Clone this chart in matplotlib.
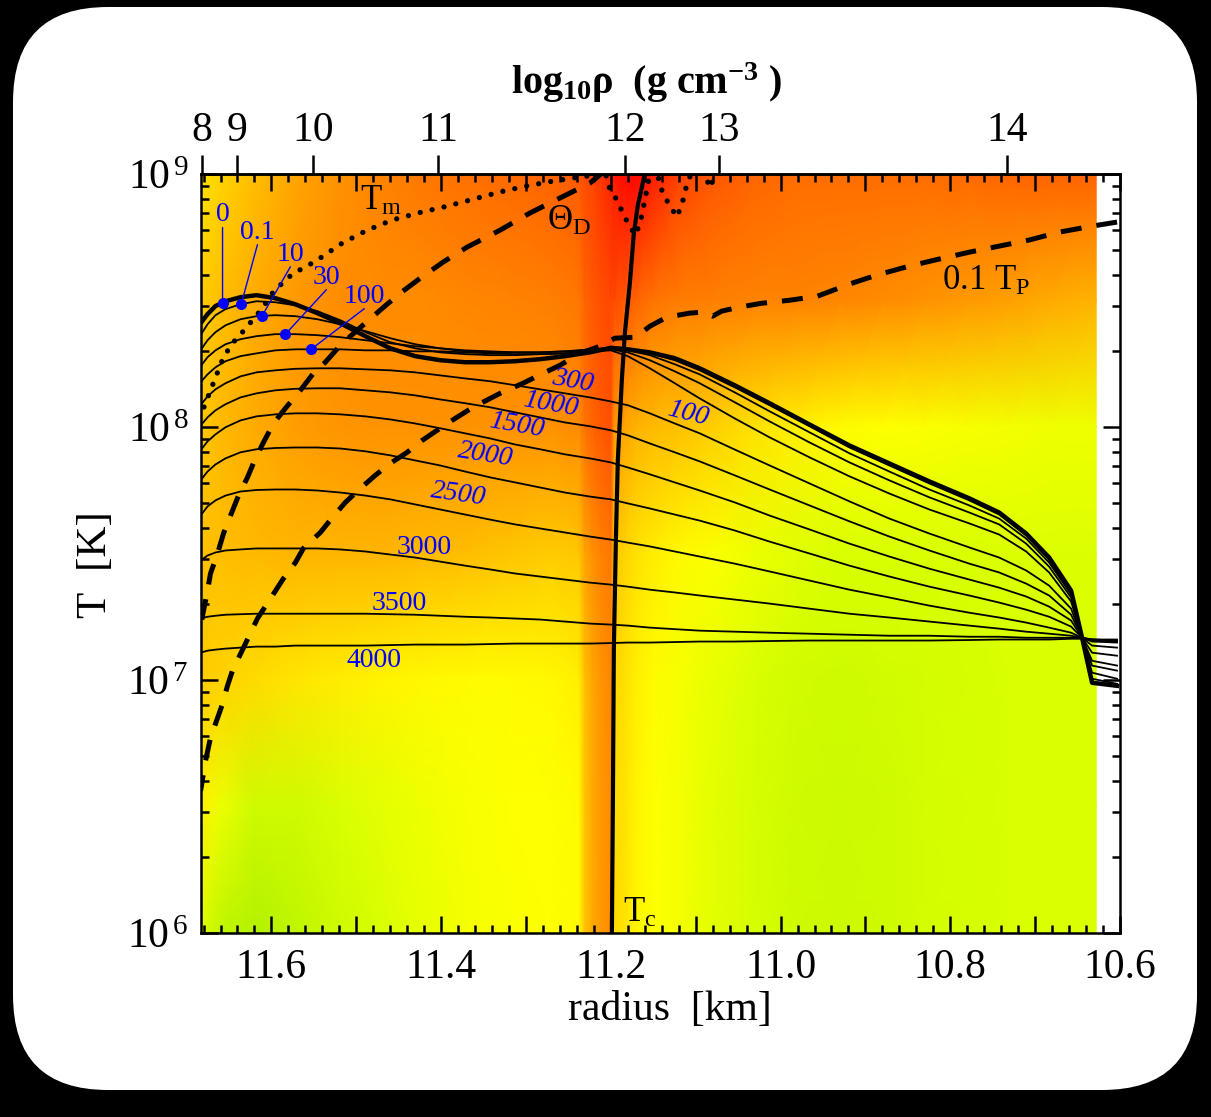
import numpy as np
import matplotlib
matplotlib.use("Agg")
import matplotlib.pyplot as plt
from matplotlib.colors import LinearSegmentedColormap
from matplotlib.patches import FancyBboxPatch
from matplotlib.ticker import (MultipleLocator, LogLocator, NullFormatter,
                               FuncFormatter, FixedLocator)

plt.rcParams['font.family'] = ['Liberation Serif', 'DejaVu Serif']
plt.rcParams['mathtext.fontset'] = 'custom'
plt.rcParams['mathtext.rm'] = 'Liberation Serif'
plt.rcParams['mathtext.it'] = 'Liberation Serif:italic'
plt.rcParams['mathtext.bf'] = 'Liberation Serif:bold'

# ---------------- cooling profiles: log10 T versus radius ----------------
radius = [11.6835, 11.6753, 11.6659, 11.6541, 11.6365, 11.6176, 11.5953, 11.5718,
          11.5459, 11.5188, 11.4894, 11.4600, 11.4306, 11.4012, 11.3718, 11.3424,
          11.3129, 11.2835, 11.2541, 11.2247, 11.2000, 11.1800, 11.1541, 11.1247,
          11.0953, 11.0541, 11.0129, 10.9659, 10.9188, 10.8718, 10.8247, 10.7776,
          10.7424, 10.7106, 10.6835, 10.6576, 10.6447, 10.6329, 10.6035]

logT_age_0 = [8.410, 8.446, 8.478, 8.497, 8.513, 8.521, 8.509, 8.485, 8.450, 8.410,
              8.359, 8.311, 8.280, 8.264, 8.256, 8.256, 8.260, 8.268, 8.280, 8.295,
              8.313, 8.307, 8.295, 8.272, 8.232, 8.165, 8.094, 8.010, 7.927, 7.856,
              7.785, 7.718, 7.662, 7.579, 7.484, 7.353, 7.167, 6.989, 6.977]
logT_age_0p1 = [8.363, 8.406, 8.442, 8.466, 8.485, 8.497, 8.493, 8.481, 8.458, 8.422,
                8.375, 8.335, 8.311, 8.295, 8.288, 8.284, 8.284, 8.288, 8.291, 8.303,
                8.313, 8.305, 8.291, 8.264, 8.224, 8.157, 8.086, 8.003, 7.919, 7.848,
                7.777, 7.710, 7.654, 7.571, 7.476, 7.345, 7.167, 6.993, 6.981]
logT_age_10 = [8.303, 8.343, 8.375, 8.402, 8.426, 8.438, 8.442, 8.438, 8.426, 8.406,
               8.379, 8.351, 8.327, 8.311, 8.299, 8.295, 8.295, 8.295, 8.299, 8.307,
               8.313, 8.303, 8.284, 8.248, 8.208, 8.137, 8.062, 7.979, 7.896, 7.824,
               7.753, 7.690, 7.638, 7.559, 7.464, 7.338, 7.167, 7.005, 6.985]
logT_age_30 = [8.240, 8.276, 8.303, 8.327, 8.347, 8.359, 8.367, 8.367, 8.363, 8.355,
               8.343, 8.331, 8.319, 8.311, 8.303, 8.299, 8.295, 8.295, 8.299, 8.303,
               8.307, 8.295, 8.264, 8.220, 8.173, 8.098, 8.022, 7.939, 7.860, 7.789,
               7.722, 7.662, 7.615, 7.539, 7.448, 7.326, 7.167, 7.029, 7.005]
logT_age_100 = [8.177, 8.208, 8.236, 8.260, 8.280, 8.291, 8.303, 8.307, 8.307, 8.307,
                8.303, 8.303, 8.299, 8.299, 8.295, 8.291, 8.288, 8.288, 8.291, 8.299,
                8.303, 8.280, 8.232, 8.173, 8.113, 8.034, 7.959, 7.880, 7.805, 7.737,
                7.674, 7.619, 7.575, 7.508, 7.425, 7.310, 7.167, 7.057, 7.037]
logT_age_300 = [8.086, 8.121, 8.149, 8.173, 8.200, 8.216, 8.224, 8.230, 8.232, 8.232,
                8.228, 8.224, 8.216, 8.204, 8.192, 8.181, 8.165, 8.149, 8.133, 8.117,
                8.101, 8.086, 8.054, 8.014, 7.975, 7.911, 7.848, 7.777, 7.706, 7.638,
                7.579, 7.524, 7.484, 7.433, 7.373, 7.282, 7.167, 7.076, 7.057]
logT_age_1000 = [8.006, 8.038, 8.066, 8.090, 8.117, 8.133, 8.145, 8.151, 8.153, 8.153,
                 8.145, 8.137, 8.125, 8.109, 8.094, 8.078, 8.058, 8.038, 8.018, 8.003,
                 7.987, 7.967, 7.935, 7.900, 7.864, 7.809, 7.753, 7.690, 7.627, 7.567,
                 7.512, 7.460, 7.425, 7.381, 7.334, 7.258, 7.167, 7.108, 7.096]
logT_age_1500 = [7.908, 7.943, 7.971, 7.999, 8.026, 8.042, 8.050, 8.054, 8.054, 8.050,
                 8.042, 8.030, 8.014, 7.995, 7.975, 7.955, 7.931, 7.912, 7.892, 7.876,
                 7.860, 7.840, 7.813, 7.781, 7.749, 7.702, 7.650, 7.595, 7.539, 7.488,
                 7.440, 7.397, 7.365, 7.330, 7.290, 7.235, 7.167, 7.136, 7.128]
logT_age_2000 = [7.789, 7.824, 7.852, 7.876, 7.900, 7.912, 7.917, 7.919, 7.919, 7.915,
                 7.904, 7.888, 7.868, 7.848, 7.824, 7.801, 7.781, 7.761, 7.741, 7.725,
                 7.714, 7.698, 7.678, 7.654, 7.630, 7.591, 7.547, 7.500, 7.452, 7.409,
                 7.369, 7.334, 7.306, 7.278, 7.250, 7.211, 7.167, 7.152, 7.148]
logT_age_2500 = [7.650, 7.686, 7.710, 7.729, 7.745, 7.751, 7.753, 7.753, 7.749, 7.741,
                 7.729, 7.714, 7.694, 7.674, 7.654, 7.634, 7.615, 7.599, 7.583, 7.567,
                 7.555, 7.543, 7.528, 7.508, 7.488, 7.460, 7.429, 7.393, 7.357, 7.326,
                 7.294, 7.266, 7.247, 7.227, 7.207, 7.187, 7.167, 7.156, 7.152]
logT_age_3000 = [7.472, 7.492, 7.504, 7.512, 7.516, 7.520, 7.520, 7.520, 7.520, 7.516,
                 7.508, 7.496, 7.484, 7.468, 7.452, 7.437, 7.421, 7.409, 7.397, 7.385,
                 7.377, 7.369, 7.357, 7.346, 7.334, 7.318, 7.302, 7.282, 7.262, 7.247,
                 7.231, 7.215, 7.203, 7.191, 7.183, 7.175, 7.167, 7.160, 7.156]
logT_age_3500 = [7.243, 7.250, 7.254, 7.258, 7.260, 7.262, 7.262, 7.262, 7.262, 7.262,
                 7.262, 7.260, 7.258, 7.254, 7.250, 7.247, 7.243, 7.239, 7.231, 7.223,
                 7.219, 7.215, 7.207, 7.201, 7.195, 7.191, 7.187, 7.183, 7.179, 7.175,
                 7.175, 7.171, 7.171, 7.167, 7.167, 7.167, 7.167, 7.160, 7.156]
logT_age_4000 = [7.108, 7.116, 7.120, 7.124, 7.128, 7.132, 7.132, 7.136, 7.136, 7.136,
                 7.136, 7.138, 7.140, 7.140, 7.140, 7.142, 7.144, 7.144, 7.144, 7.144,
                 7.146, 7.148, 7.148, 7.150, 7.152, 7.152, 7.154, 7.156, 7.156, 7.156,
                 7.156, 7.158, 7.160, 7.160, 7.160, 7.163, 7.163, 7.160, 7.160]

profiles = [logT_age_0, logT_age_0p1, logT_age_10, logT_age_30, logT_age_100,
            logT_age_300, logT_age_1000, logT_age_1500, logT_age_2000,
            logT_age_2500, logT_age_3000, logT_age_3500, logT_age_4000]

# early ages: label joined to a dot on its profile
early_ages = ["0", "0.1", "10", "30", "100"]
early_dot_radius = [11.6576, 11.6356, 11.611, 11.5835, 11.5533]
early_text_radius = [11.6576, 11.6165, 11.5776, 11.5353, 11.4906]
early_text_logT = [8.838, 8.770, 8.683, 8.592, 8.517]

# later ages: label written along the profile
late_ages = ["300", "1000", "1500", "2000", "2500", "3000", "3500", "4000", "100"]
late_text_radius = [11.2447, 11.2706, 11.3118, 11.3482, 11.380, 11.420, 11.4494, 11.4788, 11.1094]
late_text_logT = [8.181, 8.090, 8.006, 7.888, 7.733, 7.524, 7.302, 7.076, 8.054]
late_rotation = [-10, -10, -10, -9, -8, 0, 0, 0, -14]
late_italic = [True, True, True, True, True, False, False, False, True]

# ---------------- characteristic temperatures ----------------
Tc_radius = [11.2000, 11.1988, 11.1976, 11.1965, 11.1941, 11.1918, 11.1894, 11.1871,
             11.1835, 11.1776, 11.1729, 11.1682, 11.1600]
Tc_logT = [5.90, 6.000, 6.522, 7.116, 7.551, 7.868, 8.026, 8.185,
           8.371, 8.569, 8.766, 8.877, 9.000]

Tm_radius = [11.6847, 11.6718, 11.6635, 11.6565, 11.6459, 11.6341, 11.6224, 11.6106,
             11.5988, 11.5859, 11.5741, 11.5600, 11.5459, 11.5165, 11.4871, 11.4576,
             11.4271, 11.3976, 11.3659, 11.3306, 11.2988, 11.2682, 11.2365, 11.2188,
             11.2129, 11.2082, 11.2035, 11.1929, 11.1859, 11.1776, 11.1706, 11.1647,
             11.1576, 11.1518, 11.1471, 11.1424, 11.1365, 11.1306, 11.1224, 11.1165,
             11.1106, 11.1047, 11.0953, 11.0894, 11.0824, 11.0776, 11.0694, 10.6035]
Tm_logT = [8.034, 8.145, 8.216, 8.276, 8.331, 8.375, 8.422, 8.470,
           8.529, 8.573, 8.608, 8.632, 8.660, 8.727, 8.778, 8.818,
           8.846, 8.869, 8.897, 8.929, 8.953, 8.972, 8.988, 8.996,
           9.040, 9.040, 8.956, 8.897, 8.846, 8.790, 8.759, 8.818,
           8.937, 9.040, 9.040, 8.956, 8.909, 8.877, 8.830, 8.877,
           8.956, 9.008, 9.040, 8.992, 8.945, 9.008, 9.050, 9.300]

ThetaD_radius = [11.2059, 11.2247, 11.2600, 11.2953, 11.3306, 11.3694, 11.3976, 11.4247,
                 11.4482, 11.4718, 11.4988, 11.5188, 11.5365, 11.5506, 11.5659, 11.5835,
                 11.5976, 11.6094, 11.6188, 11.6282, 11.6388, 11.6482, 11.6565, 11.6635,
                 11.6718, 11.6753, 11.6800, 11.6847]
ThetaD_logT = [9.016, 8.964, 8.905, 8.846, 8.778, 8.711, 8.652, 8.588,
               8.529, 8.462, 8.383, 8.323, 8.256, 8.212, 8.145, 8.074,
               8.014, 7.939, 7.876, 7.801, 7.729, 7.650, 7.579, 7.500,
               7.421, 7.353, 7.274, 7.195]

TP_radius = [10.6035, 10.6329, 10.6718, 10.7071, 10.7424, 10.7776, 10.8129, 10.8482,
             10.8871, 10.9188, 10.9565, 10.9894, 11.0224, 11.0482, 11.0694, 11.0800,
             11.0918, 11.1071, 11.1341, 11.1541, 11.1706, 11.1953, 11.2129, 11.2365,
             11.2600, 11.2800, 11.3035, 11.3306, 11.3624, 11.3835, 11.4012, 11.4224,
             11.4400, 11.4600, 11.4776, 11.4953, 11.5129, 11.5282, 11.5424, 11.5624,
             11.5718, 11.5859, 11.5988, 11.6165, 11.6306, 11.6459, 11.6518, 11.6576,
             11.6659, 11.6718, 11.6776, 11.6835]
TP_logT = [8.810, 8.794, 8.770, 8.739, 8.715, 8.691, 8.664, 8.636,
           8.600, 8.565, 8.517, 8.501, 8.489, 8.474, 8.458, 8.438,
           8.454, 8.450, 8.434, 8.398, 8.355, 8.351, 8.319, 8.291,
           8.244, 8.212, 8.173, 8.133, 8.078, 8.034, 7.995, 7.947,
           7.900, 7.856, 7.809, 7.757, 7.702, 7.642, 7.583, 7.520,
           7.464, 7.401, 7.334, 7.243, 7.144, 7.037, 6.977, 6.906,
           6.827, 6.772, 6.681, 6.562]

# ---------------- background map (relative level 0..1) ----------------
field_radius = [11.683, 11.66, 11.62, 11.57, 11.52, 11.47, 11.42, 11.37, 11.32, 11.27,
                11.238, 11.231, 11.222, 11.212, 11.200, 11.196, 11.185, 11.17, 11.15, 11.12,
                11.08, 11.03, 10.98, 10.93, 10.88, 10.83, 10.78, 10.73, 10.68, 10.628]
field_logT = [6.0, 6.5, 7.0, 7.5, 8.0, 8.5, 9.0]
field_level = [
    [0.22, 0.10, 0.05, 0.10, 0.16, 0.20, 0.24, 0.27, 0.29, 0.30, 0.31, 0.46, 0.53, 0.58, 0.62,
     0.40, 0.38, 0.33, 0.30, 0.27, 0.23, 0.19, 0.16, 0.15, 0.16, 0.18, 0.19, 0.20, 0.20, 0.20],
    [0.34, 0.25, 0.16, 0.16, 0.20, 0.23, 0.26, 0.28, 0.30, 0.30, 0.31, 0.46, 0.53, 0.58, 0.62,
     0.40, 0.38, 0.33, 0.30, 0.27, 0.23, 0.19, 0.16, 0.15, 0.16, 0.18, 0.19, 0.20, 0.20, 0.20],
    [0.44, 0.42, 0.40, 0.37, 0.35, 0.33, 0.32, 0.31, 0.31, 0.32, 0.34, 0.47, 0.54, 0.59, 0.63,
     0.41, 0.39, 0.34, 0.31, 0.28, 0.24, 0.20, 0.17, 0.16, 0.17, 0.18, 0.19, 0.20, 0.20, 0.20],
    [0.47, 0.48, 0.49, 0.50, 0.50, 0.50, 0.49, 0.48, 0.46, 0.44, 0.45, 0.55, 0.60, 0.64, 0.67,
     0.45, 0.42, 0.38, 0.35, 0.32, 0.29, 0.25, 0.22, 0.20, 0.20, 0.20, 0.20, 0.21, 0.21, 0.21],
    [0.45, 0.49, 0.53, 0.57, 0.59, 0.60, 0.60, 0.60, 0.60, 0.60, 0.62, 0.68, 0.72, 0.75, 0.78,
     0.58, 0.55, 0.51, 0.49, 0.47, 0.43, 0.38, 0.34, 0.31, 0.30, 0.29, 0.28, 0.27, 0.26, 0.26],
    [0.44, 0.48, 0.53, 0.58, 0.61, 0.62, 0.62, 0.63, 0.64, 0.65, 0.67, 0.72, 0.75, 0.78, 0.80,
     0.80, 0.76, 0.72, 0.68, 0.66, 0.65, 0.64, 0.64, 0.63, 0.62, 0.60, 0.58, 0.56, 0.53, 0.51],
    [0.38, 0.42, 0.48, 0.55, 0.60, 0.64, 0.67, 0.69, 0.71, 0.73, 0.75, 0.79, 0.81, 0.85, 0.90,
     0.93, 0.97, 0.98, 0.92, 0.82, 0.76, 0.72, 0.70, 0.70, 0.70, 0.70, 0.71, 0.72, 0.73, 0.73],
]

# top axis: log10 of density at given radii
rho_ticks = ["8", "9", "10", "11", "12", "13", "14"]
rho_tick_radius = [11.6815, 11.6404, 11.5509, 11.4032, 11.1829, 11.0729, 10.7326]

# ---------------- figure ----------------
W, H = 1211, 1117
fig = plt.figure(figsize=(W / 100, H / 100), dpi=100)
fig.patch.set_facecolor('black')

frame = fig.add_axes([0, 0, 1, 1])
frame.set_xlim(0, W)
frame.set_ylim(H, 0)
frame.axis('off')
frame.add_patch(FancyBboxPatch((13, 7), 1184, 1083,
                               boxstyle="round,pad=0,rounding_size=95",
                               fc='white', ec='none'))

ax = fig.add_axes([201 / W, 1 - 933 / H, (1120 - 201) / W, (933 - 174) / H])
ax.set_facecolor('white')

heat = LinearSegmentedColormap.from_list(
    'heat', [(0.0, (0.66, 0.93, 0.0)), (0.2, (0.85, 1.0, 0.0)),
             (0.3, (1.0, 1.0, 0.0)), (1.0, (1.0, 0.0, 0.0))])
RR, LL = np.meshgrid(field_radius, field_logT)
ax.pcolormesh(RR, 10 ** LL, np.array(field_level), cmap=heat, vmin=0, vmax=1,
              shading='gouraud', zorder=0, rasterized=True)

ax.set_yscale('log')
ax.set_xlim(11.683, 10.6)
ax.set_ylim(1e6, 1e9)

r = np.array(radius)
for i, lt in enumerate(profiles):
    ax.plot(r, 10 ** np.array(lt), color='black', lw=3.2 if i == 0 else 1.3,
            zorder=3 if i == 0 else 2, solid_joinstyle='round')

ax.plot(Tm_radius, 10 ** np.array(Tm_logT), color='black', lw=3.8,
        linestyle=(0, (0.01, 2.3)), dash_capstyle='round', zorder=4)
for rr, lt in [(ThetaD_radius, ThetaD_logT), (TP_radius, TP_logT)]:
    ax.plot(rr, 10 ** np.array(lt), color='black', lw=3.6,
            linestyle=(0, (4.2, 3.0)), dash_capstyle='butt', zorder=4)
ax.plot(Tc_radius, 10 ** np.array(Tc_logT), color='black', lw=3.0, zorder=5)

# age labels
for k, (lab, rd, rt, lt) in enumerate(zip(early_ages, early_dot_radius,
                                           early_text_radius, early_text_logT)):
    prof = np.array(profiles[k])
    ld = np.interp(rd, r[::-1], prof[::-1])
    ax.plot([rd], [10 ** ld], 'o', color='blue', ms=7, zorder=6)
    ax.annotate(lab, xy=(rd, 10 ** ld), xytext=(rt, 10 ** lt),
                ha='center', va='center', color='blue', fontsize=20, zorder=6,
                arrowprops=dict(arrowstyle='-', color='blue', lw=1.0,
                                shrinkA=0, shrinkB=0, relpos=(0.5, 0.0),
                                patchA=None))

for lab, rt, lt, rot, it in zip(late_ages, late_text_radius, late_text_logT,
                                late_rotation, late_italic):
    ax.text(rt, 10 ** lt, lab, ha='center', va='center', color='blue',
            fontsize=20, rotation=rot, style='italic' if it else 'normal',
            zorder=6)

ax.text(11.4953, 10 ** 8.857, r'T$_{\rm m}$', fontsize=25, ha='left',
        va='baseline', zorder=6)
ax.text(11.2753, 10 ** 8.778, r'$\Theta_{\rm D}$', fontsize=25, ha='left',
        va='baseline', zorder=6)
ax.text(10.8094, 10 ** 8.541, r'0.1 T$_{\rm P}$', fontsize=25, ha='left',
        va='baseline', zorder=6)
ax.text(11.1859, 10 ** 6.043, r'T$_{\rm c}$', fontsize=25, ha='left',
        va='baseline', zorder=6)

# axes styling
for s in ax.spines.values():
    s.set_linewidth(1.8)
    s.set_zorder(7)

ax.xaxis.set_major_locator(MultipleLocator(0.1))
ax.xaxis.set_minor_locator(MultipleLocator(0.02))


def xlab(v, pos):
    k = round(v * 10)
    return f"{v:.1f}" if k % 2 == 0 else ""


def ylab(v, pos):
    e = int(round(np.log10(v)))
    return r'$\mathdefault{10^{\,%d}}$' % e


ax.xaxis.set_major_formatter(FuncFormatter(xlab))
ax.yaxis.set_major_locator(LogLocator(base=10, numticks=10))
ax.yaxis.set_major_formatter(FuncFormatter(ylab))
ax.yaxis.set_minor_locator(LogLocator(base=10, subs=np.arange(2, 10), numticks=20))
ax.yaxis.set_minor_formatter(NullFormatter())
ax.tick_params(which='both', direction='in', top=True, right=True, width=1.8,
               labelsize=30)
ax.tick_params(which='major', length=12)
ax.tick_params(which='minor', length=6)
ax.tick_params(axis='x', which='major', pad=11)
ax.tick_params(axis='y', which='major', pad=9)

top = ax.secondary_xaxis('top')
top.xaxis.set_major_locator(FixedLocator(rho_tick_radius))
top.set_xticklabels(rho_ticks)
top.xaxis.set_minor_locator(FixedLocator([]))
top.tick_params(which='major', direction='out', length=14, width=1.8,
                labelsize=30, pad=3)
top.spines['top'].set_linewidth(1.8)

fig.text(647 / W, 1 - 83 / H,
         r'$\mathbf{log_{10}\rho}\ \ \mathbf{(g\ cm^{-3}\ )}$',
         ha='center', va='center', fontsize=29)
fig.text(670 / W, 1 - 1010 / H, 'radius  [km]', ha='center', va='center',
         fontsize=30)
fig.text(96 / W, 1 - 565 / H, 'T  [K]', ha='center', va='center',
         fontsize=31, rotation=90)

fig.savefig('out.png', dpi=100, facecolor=fig.get_facecolor())
